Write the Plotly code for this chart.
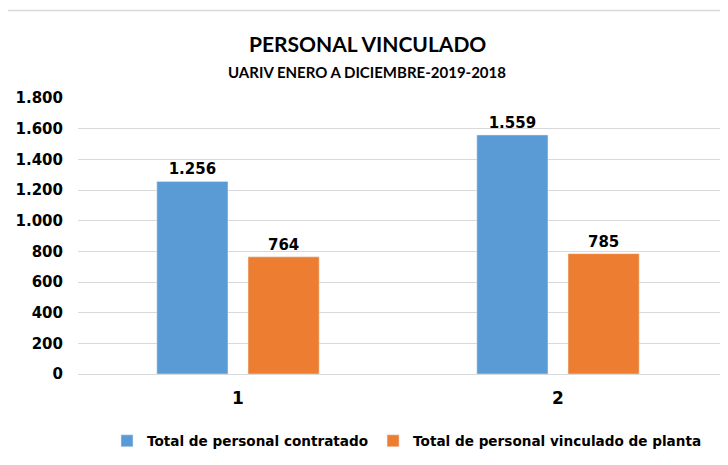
import plotly.graph_objects as go

categories = ["1", "2"]
contratado = [1256, 1559]
planta = [764, 785]
series_names = ["Total de personal contratado", "Total de personal vinculado de planta"]
y_ticks = [0, 200, 400, 600, 800, 1000, 1200, 1400, 1600, 1800]

# page body has an 8px default margin; figure sized to fit the window
OFF = 8
W, H = 728 - OFF, 465 - OFF
ml, mr, mt, mb = 78 - OFF, 6, 98 - OFF, 91
pw, ph = W - ml - mr, H - mt - mb

FONT = "DejaVu Sans"

fig = go.Figure()
fig.add_trace(go.Bar(x=categories, y=contratado, name=series_names[0],
                     marker_color="#5B9BD5", texttemplate="%{y:,d}", textposition="outside",
                     textfont=dict(family=FONT, size=15, color="#000000", weight="bold")))
fig.add_trace(go.Bar(x=categories, y=planta, name=series_names[1],
                     marker_color="#ED7D31", texttemplate="%{y:,d}", textposition="outside",
                     textfont=dict(family=FONT, size=15, color="#000000", weight="bold")))

def px_x(x):
    # x in reference-image pixels
    return (x - OFF - ml) / pw

def px_y(y):
    return (H - mb - (y - OFF)) / ph

fig.update_layout(
    width=W, height=H,
    margin=dict(l=ml, r=mr, t=mt, b=mb, autoexpand=False),
    paper_bgcolor="white", plot_bgcolor="white",
    separators=",.",
    barmode="group", bargap=0.43, bargroupgap=0.22,
    showlegend=True,
    legend=dict(orientation="h", x=px_x(407), xanchor="center", y=px_y(441), yanchor="middle",
                font=dict(family=FONT, size=13.6, color="#000000", weight="bold"),
                itemwidth=30, traceorder="normal"),
    xaxis=dict(range=[-0.5, 1.5125], showgrid=False, showline=False, ticks="", automargin=False,
               tickfont=dict(family=FONT, size=17, color="#000000", weight="bold"),
               ticklabelstandoff=12),
    yaxis=dict(range=[0, 1800], tickvals=y_ticks, tickformat=",d", automargin=False,
               showgrid=True, gridcolor="#D9D9D9", gridwidth=1,
               zeroline=True, zerolinecolor="#D9D9D9", zerolinewidth=1,
               showline=False, ticks="",
               tickfont=dict(family=FONT, size=15, color="#000000", weight="bold"),
               ticklabelstandoff=14),
    annotations=[
        dict(text="<b>PERSONAL VINCULADO</b>", xref="paper", yref="paper",
             x=px_x(367), y=px_y(43.5), xanchor="center", yanchor="middle", showarrow=False,
             font=dict(family="Liberation Sans Narrow, Lato, sans-serif", size=21, color="#000000")),
        dict(text="<b>UARIV ENERO A DICIEMBRE-2019-2018</b>", xref="paper", yref="paper",
             x=px_x(367), y=px_y(72), xanchor="center", yanchor="middle", showarrow=False,
             font=dict(family="Liberation Sans Narrow, Lato, sans-serif", size=15, color="#000000")),
    ],
    shapes=[
        dict(type="rect", xref="paper", yref="paper",
             x0=px_x(5.5), y0=px_y(480), x1=px_x(740), y1=px_y(10.5),
             line=dict(color="#D9D9D9", width=1.5), fillcolor="rgba(0,0,0,0)", layer="below"),
    ],
)
fig.update_traces(cliponaxis=False)

fig.write_html("out.html")
